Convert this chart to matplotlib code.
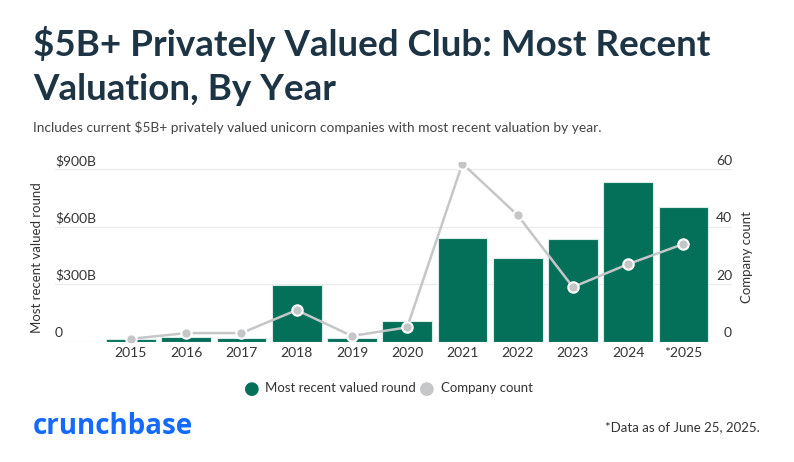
import matplotlib.pyplot as plt
import numpy as np

# data
years = ["2015", "2016", "2017", "2018", "2019", "2020",
         "2021", "2022", "2023", "2024", "*2025"]
valuation_b = [12, 25, 18, 297, 18, 106, 539, 437, 536, 835, 701]
company_count = [1, 3, 3, 11, 2, 5, 62, 44, 19, 27, 34]
left_ticks = [0, 300, 600, 900]
left_labels = ["0", "$300B", "$600B", "$900B"]
right_ticks = [0, 20, 40, 60]

GREEN = "#04705a"
GRAY = "#c4c6c8"
NAVY = "#1d3445"
TEXT = "#333333"

plt.rcParams['font.family'] = ['Lato', 'DejaVu Sans']

fig = plt.figure(figsize=(7.94, 4.62), dpi=100)

# plot area in figure fractions (pixels / size)
W, H = 794, 462
left, right = 55 / W, 732 / W
bottom, top = 1 - 341.7 / H, 1 - 162 / H
ax = fig.add_axes([left, bottom, right - left, top - bottom])
ax2 = ax.twinx()

x = np.arange(len(years))
ax.bar(x, valuation_b, width=0.9, color=GREEN, edgecolor="#d9ece6",
       linewidth=0.8, zorder=2)
ax.set_xlim(-1.375, len(years) - 1 + 0.88)
ymax_left = 900 * (341.7 - 162) / 172.4
ax.set_ylim(0, ymax_left)
ax2.set_ylim(0, ymax_left / 15)

ax2.plot(x, company_count, color=GRAY, linewidth=1.8, marker="o",
         markersize=7.5, markerfacecolor=GRAY, markeredgecolor="white",
         markeredgewidth=1.5, zorder=3)

# grid lines
for t in left_ticks:
    ax.axhline(t, color="#ebebeb", linewidth=0.9, zorder=0)

for a in (ax, ax2):
    for s in a.spines.values():
        s.set_visible(False)
    a.set_yticks([])
ax.set_xticks(x)
ax.set_xticklabels(years, fontsize=10, color=TEXT)
ax.tick_params(axis="x", length=0, pad=4)

# tick labels sit just above the grid lines
for t, lab in zip(left_ticks, left_labels):
    ax.text(-1.375, t + 12, lab, ha="left", va="bottom",
            fontsize=10, color=TEXT)
for t in right_ticks:
    ax2.text(len(years) - 1 + 0.88, t + 0.8, str(t), ha="right",
             va="bottom", fontsize=10, color=TEXT)

fig.text(37 / W, 1 - 258 / H, "Most recent valued round", rotation=90,
         ha="center", va="center", fontsize=9.5, color=TEXT)
fig.text(747 / W, 1 - 257 / H, "Company count", rotation=90,
         ha="center", va="center", fontsize=9.5, color=TEXT)

# titles
fig.text(33 / W, 1 - 44 / H, "$5B+ Privately Valued Club: Most Recent",
         ha="left", va="center", fontsize=26.5, fontweight="bold", color=NAVY)
fig.text(33 / W, 1 - 89 / H, "Valuation, By Year",
         ha="left", va="center", fontsize=26.5, fontweight="bold", color=NAVY)
fig.text(33 / W, 1 - 128 / H,
         "Includes current $5B+ privately valued unicorn companies with most recent valuation by year.",
         ha="left", va="center", fontsize=9.9, color="#444444")

# legend
fig.text(252 / W, 1 - 389 / H, "\u25CF", ha="center", va="center",
         fontsize=13, color=GREEN, family="DejaVu Sans")
fig.text(265 / W, 1 - 388 / H, "Most recent valued round", ha="left",
         va="center", fontsize=9.5, color=TEXT)
fig.text(427 / W, 1 - 389 / H, "\u25CF", ha="center", va="center",
         fontsize=13, color=GRAY, family="DejaVu Sans")
fig.text(441 / W, 1 - 388 / H, "Company count", ha="left",
         va="center", fontsize=9.5, color=TEXT)

# footer
fig.text(33 / W, 1 - 427 / H, "crunchbase", ha="left", va="center",
         fontsize=20, fontweight="bold", color="#146aff",
         family=["Open Sans", "DejaVu Sans"])
fig.text(760 / W, 1 - 427 / H, "*Data as of June 25, 2025.", ha="right",
         va="center", fontsize=9.5, color=TEXT)

fig.savefig("out.png", dpi=100)
